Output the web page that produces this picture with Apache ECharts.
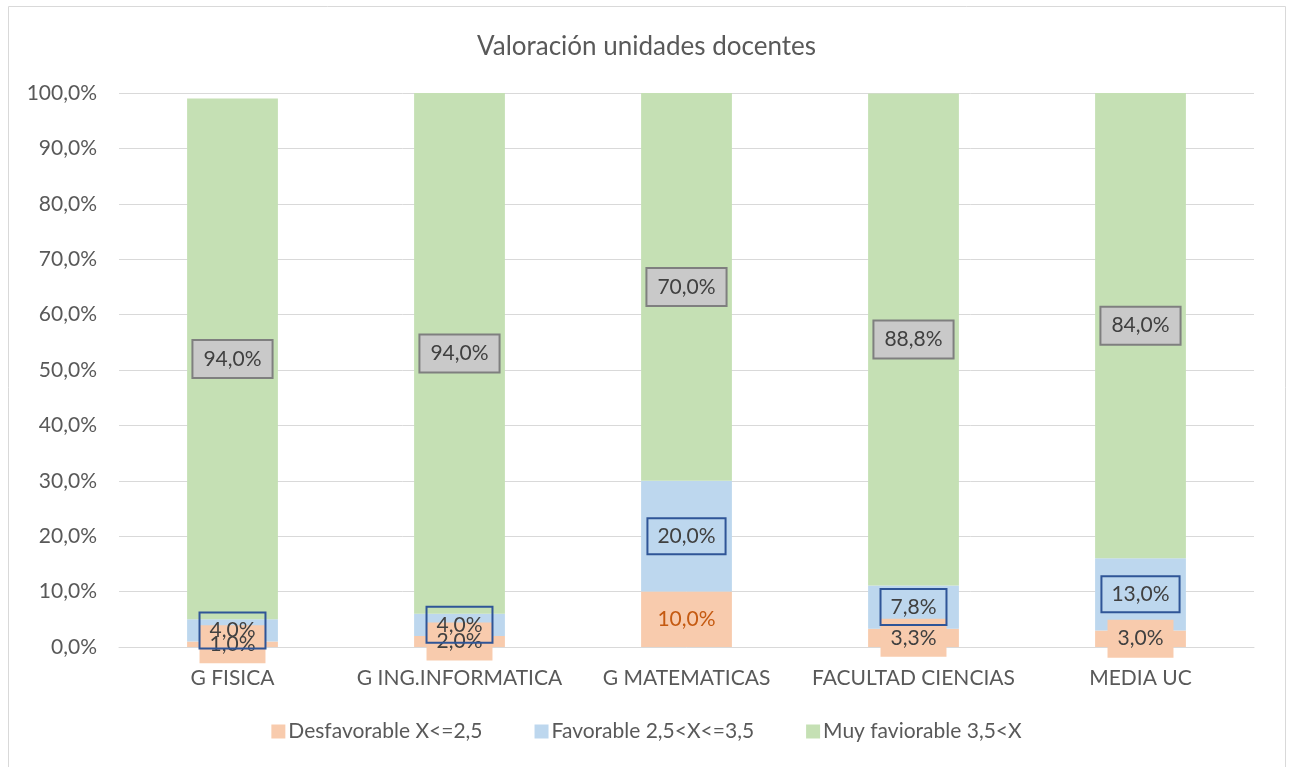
<!DOCTYPE html>
<html>
<head>
<meta charset="utf-8">
<script src="https://cdn.jsdelivr.net/npm/echarts@6/dist/echarts.min.js"></script>
<style>
html,body{margin:0;padding:0;background:#fff;}
#chart{width:1293px;height:767px;}
</style>
</head>
<body>
<div id="chart"></div>
<script>
const categories = ['G FISICA', 'G ING.INFORMATICA', 'G MATEMATICAS', 'FACULTAD CIENCIAS', 'MEDIA UC'];
const desfavorable = [1.0, 2.0, 10.0, 3.3, 3.0];
const favorable = [4.0, 4.0, 20.0, 7.8, 13.0];
const muyFavorable = [94.0, 94.0, 70.0, 88.8, 84.0];
const yTicks = [0, 10, 20, 30, 40, 50, 60, 70, 80, 90, 100];
const seriesNames = ['Desfavorable X<=2,5', 'Favorable 2,5<X<=3,5', 'Muy faviorable 3,5<X'];

const FONT = 'Lato';
const fmt = v => v.toFixed(1).replace('.', ',') + '%';

const chart = echarts.init(document.getElementById('chart'));

const desfData = desfavorable.map((v, i) => {
  if (v >= 8) {
    return { value: v, label: { color: '#C55A11', backgroundColor: 'transparent' } };
  }
  return v;
});

chart.setOption({
  animation: false,
  textStyle: { fontFamily: FONT },
  title: {
    text: 'Valoración unidades docentes',
    left: 'center',
    top: 29,
    textStyle: { fontFamily: FONT, fontSize: 26, fontWeight: 'normal', color: '#595959' }
  },
  graphic: [{
    type: 'rect',
    shape: { x: 8.5, y: 6.5, width: 1277, height: 770 },
    style: { fill: 'none', stroke: '#D9D9D9', lineWidth: 1 },
    silent: true,
    z: -10
  }],
  legend: {
    bottom: 20,
    left: 'center',
    itemWidth: 14,
    itemHeight: 14,
    itemGap: 52,
    icon: 'rect',
    textStyle: { fontFamily: FONT, fontSize: 21, color: '#595959', padding: [0, 0, 0, -2] },
    data: seriesNames
  },
  grid: { left: 119, right: 39, top: 93, bottom: 120 },
  xAxis: {
    type: 'category',
    data: categories,
    axisLine: { lineStyle: { color: '#D9D9D9', width: 1 } },
    axisTick: { show: false },
    axisLabel: { interval: 0, fontFamily: FONT, fontSize: 21, color: '#595959', margin: 21 }
  },
  yAxis: {
    type: 'value',
    min: yTicks[0],
    max: yTicks[yTicks.length - 1],
    interval: 10,
    axisLine: { show: false },
    axisTick: { show: false },
    splitLine: { lineStyle: { color: '#D9D9D9', width: 1 } },
    axisLabel: { fontFamily: FONT, fontSize: 21, color: '#595959', margin: 22, formatter: v => fmt(v) }
  },
  series: [
    {
      name: seriesNames[0],
      type: 'bar',
      stack: 'total',
      barCategoryGap: '60%',
      itemStyle: { color: '#F8CBAD' },
      data: desfData,
      label: {
        show: true,
        position: 'inside',
        formatter: p => fmt(p.value),
        fontFamily: FONT,
        fontSize: 21,
        color: '#404040',
        backgroundColor: '#F8CBAD',
        padding: [9, 10, 8, 10]
      }
    },
    {
      name: seriesNames[1],
      type: 'bar',
      stack: 'total',
      itemStyle: { color: '#BDD7EE' },
      data: favorable,
      label: {
        show: true,
        position: 'inside',
        formatter: p => fmt(p.value),
        fontFamily: FONT,
        fontSize: 21,
        color: '#404040',
        borderColor: '#2F5597',
        borderWidth: 2,
        padding: [8, 10, 7, 10]
      }
    },
    {
      name: seriesNames[2],
      type: 'bar',
      stack: 'total',
      itemStyle: { color: '#C5E0B4' },
      data: muyFavorable,
      label: {
        show: true,
        position: 'inside',
        formatter: p => fmt(p.value),
        fontFamily: FONT,
        fontSize: 21,
        color: '#404040',
        backgroundColor: '#C9C9C9',
        borderColor: '#7F7F7F',
        borderWidth: 2,
        padding: [8, 10, 7, 10]
      }
    }
  ]
});
</script>
</body>
</html>
